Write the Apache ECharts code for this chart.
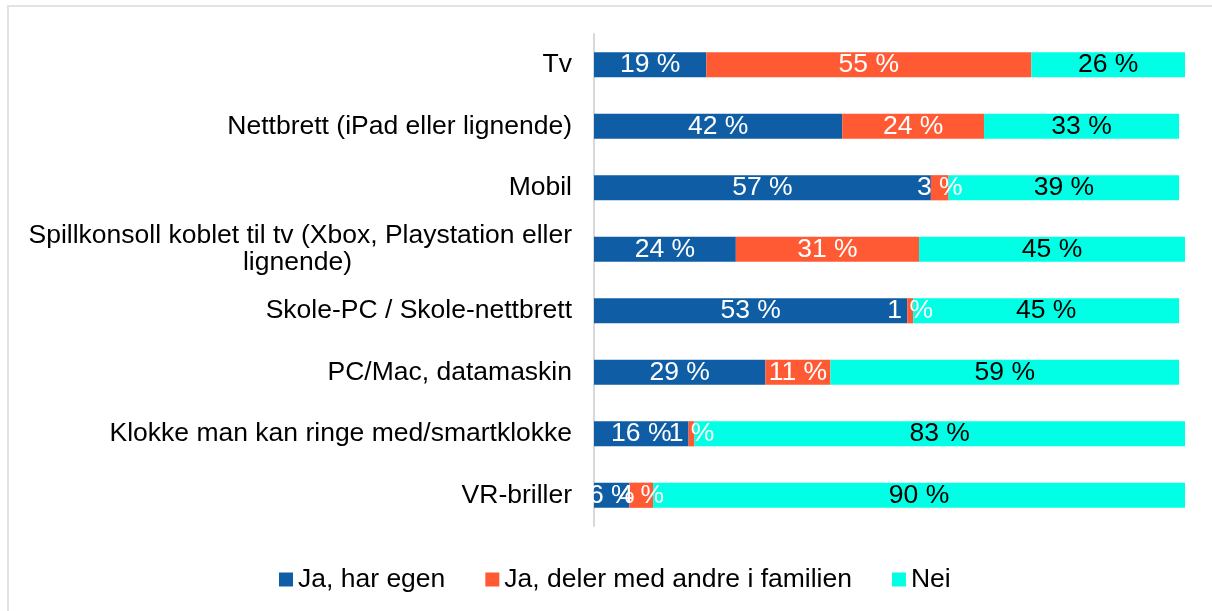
<!DOCTYPE html>
<html>
<head>
<meta charset="utf-8">
<script src="https://cdn.jsdelivr.net/npm/echarts@6/dist/echarts.min.js"></script>
<style>
  html, body { margin: 0; padding: 0; background: #fff; }
  #frame { position: absolute; left: 7px; top: 5px; width: 1220px; height: 620px;
           border-left: 2px solid #e3e3e3; border-top: 2px solid #e3e3e3; }
  #main { position: absolute; left: 0; top: 0; width: 1212px; height: 611px; }
</style>
</head>
<body>
<div id="frame"></div>
<div id="main"></div>
<script>
  var categories = [
    'Tv',
    'Nettbrett (iPad eller lignende)',
    'Mobil',
    'Spillkonsoll koblet til tv (Xbox, Playstation eller\nlignende)',
    'Skole-PC / Skole-nettbrett',
    'PC/Mac, datamaskin',
    'Klokke man kan ringe med/smartklokke',
    'VR-briller'
  ];
  var seriesNames = ['Ja, har egen', 'Ja, deler med andre i familien', 'Nei'];
  var harEgen = [19, 42, 57, 24, 53, 29, 16, 6];
  var delerMedAndre = [55, 24, 3, 31, 1, 11, 1, 4];
  var nei = [26, 33, 39, 45, 45, 59, 83, 90];
  var colors = ['#0F5EA5', '#FF5A33', '#00FFE4'];
  var labelColors = ['#fff', '#fff', '#000'];

  var font = '"Liberation Sans", Arial, sans-serif';
  var fs = 26.5;
  var myChart = echarts.init(document.getElementById('main'));

  var allData = [harEgen, delerMedAndre, nei];
  var series = allData.map(function (d, i) {
    return {
      name: seriesNames[i],
      type: 'bar',
      stack: 'total',
      data: d,
      barCategoryGap: '59%',
      itemStyle: { color: colors[i] },
      label: {
        show: true,
        position: 'inside',
        formatter: '{c} %',
        color: labelColors[i],
        fontFamily: font,
        fontSize: fs,
        textBorderWidth: 0
      }
    };
  });

  var option = {
    animation: false,
    textStyle: { fontFamily: font },
    grid: { left: 594, right: 27, top: 34, height: 492 },
    legend: {
      top: 565,
      left: 279,
      padding: 0,
      itemWidth: 14,
      itemHeight: 14,
      itemGap: 40,
      icon: 'rect',
      textStyle: { fontFamily: font, fontSize: fs, lineHeight: 29, color: '#000' },
      data: seriesNames
    },
    xAxis: {
      type: 'value',
      min: 0,
      max: 100,
      show: false
    },
    yAxis: {
      type: 'category',
      inverse: true,
      data: categories,
      axisLine: { show: true, lineStyle: { color: '#d9d9d9', width: 2 } },
      axisTick: { show: false },
      axisLabel: {
        margin: 22,
        formatter: function (v) {
          var parts = v.split('\n');
          if (parts.length < 2) return v;
          return '{a|' + parts[0] + '}\n{b|' + parts[1] + '}';
        },
        rich: {
          a: { fontSize: fs, lineHeight: 27, color: '#000', fontFamily: font },
          b: { fontSize: fs, lineHeight: 27, color: '#000', fontFamily: font, padding: [0, 220, 0, 0] }
        },
        fontFamily: font,
        fontSize: fs,
        color: '#000'
      }
    },
    series: series
  };
  myChart.setOption(option);
</script>
</body>
</html>
